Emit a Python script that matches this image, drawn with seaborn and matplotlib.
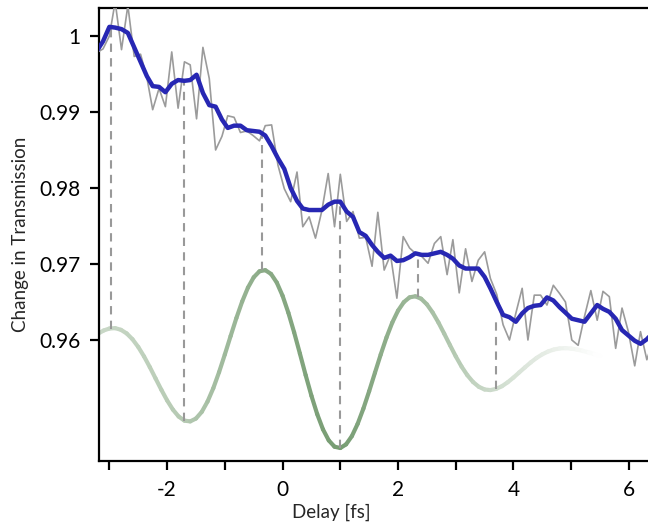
import numpy as np
import pandas as pd
import seaborn as sns
import matplotlib.pyplot as plt
from matplotlib.collections import LineCollection

# measured delay grid (fs) for the raw scan and the smoothed trace
delay = [-3.22, -3.11, -3.00, -2.90, -2.79, -2.68, -2.57, -2.46, -2.35, -2.25,
         -2.14, -2.03, -1.92, -1.81, -1.70, -1.60, -1.49, -1.38, -1.27, -1.16,
         -1.05, -0.95, -0.84, -0.73, -0.62, -0.51, -0.40, -0.30, -0.19, -0.08,
         0.03, 0.14, 0.25, 0.35, 0.46, 0.57, 0.68, 0.79, 0.90, 1.00,
         1.11, 1.22, 1.33, 1.44, 1.55, 1.65, 1.76, 1.87, 1.98, 2.09,
         2.20, 2.30, 2.41, 2.52, 2.63, 2.74, 2.85, 2.95, 3.06, 3.17,
         3.28, 3.39, 3.50, 3.60, 3.71, 3.82, 3.93, 4.04, 4.15, 4.25,
         4.36, 4.47, 4.58, 4.69, 4.80, 4.90, 5.01, 5.12, 5.23, 5.34,
         5.45, 5.55, 5.66, 5.77, 5.88, 5.99, 6.10, 6.20, 6.31, 6.42]

raw = [0.9978, 0.9983, 1.0000, 1.0045, 0.9982, 1.0040, 0.9973, 0.9976, 0.9945, 0.9903,
       0.9931, 0.9907, 0.9979, 0.9905, 0.9966, 0.9962, 0.9891, 0.9985, 0.9944, 0.9850,
       0.9868, 0.9895, 0.9893, 0.9873, 0.9875, 0.9869, 0.9862, 0.9882, 0.9883, 0.9830,
       0.9799, 0.9782, 0.9821, 0.9749, 0.9762, 0.9734, 0.9770, 0.9819, 0.9749, 0.9818,
       0.9756, 0.9769, 0.9734, 0.9735, 0.9697, 0.9768, 0.9692, 0.9712, 0.9655, 0.9736,
       0.9721, 0.9714, 0.9710, 0.9701, 0.9727, 0.9736, 0.9686, 0.9732, 0.9662, 0.9720,
       0.9677, 0.9705, 0.9716, 0.9681, 0.9660, 0.9620, 0.9600, 0.9635, 0.9668, 0.9600,
       0.9659, 0.9659, 0.9646, 0.9672, 0.9661, 0.9650, 0.9600, 0.9593, 0.9631, 0.9665,
       0.9626, 0.9664, 0.9657, 0.9589, 0.9642, 0.9611, 0.9566, 0.9611, 0.9574, 0.9600]

smooth = [0.9980, 0.9993, 1.0012, 1.0011, 1.0009, 1.0004, 0.9985, 0.9966, 0.9947, 0.9934,
          0.9933, 0.9926, 0.9937, 0.9942, 0.9941, 0.9942, 0.9949, 0.9925, 0.9909, 0.9907,
          0.9890, 0.9879, 0.9882, 0.9882, 0.9876, 0.9875, 0.9874, 0.9869, 0.9855, 0.9839,
          0.9825, 0.9800, 0.9783, 0.9773, 0.9771, 0.9771, 0.9771, 0.9778, 0.9782, 0.9782,
          0.9769, 0.9762, 0.9742, 0.9737, 0.9725, 0.9716, 0.9708, 0.9711, 0.9704, 0.9705,
          0.9709, 0.9714, 0.9712, 0.9712, 0.9714, 0.9716, 0.9712, 0.9707, 0.9698, 0.9694,
          0.9694, 0.9694, 0.9683, 0.9668, 0.9650, 0.9633, 0.9630, 0.9624, 0.9635, 0.9642,
          0.9645, 0.9646, 0.9656, 0.9652, 0.9643, 0.9636, 0.9628, 0.9626, 0.9624, 0.9635,
          0.9646, 0.9641, 0.9637, 0.9628, 0.9613, 0.9606, 0.9599, 0.9595, 0.9601, 0.9610]

# oscillation guide curve
osc_delay = [-3.2, -3.1, -3.0, -2.9, -2.8, -2.7, -2.6, -2.5, -2.4, -2.3,
             -2.2, -2.1, -2.0, -1.9, -1.8, -1.7, -1.6, -1.5, -1.4, -1.3,
             -1.2, -1.1, -1.0, -0.9, -0.8, -0.7, -0.6, -0.5, -0.4, -0.3,
             -0.2, -0.1, 0.0, 0.1, 0.2, 0.3, 0.4, 0.5, 0.6, 0.7,
             0.8, 0.9, 1.0, 1.1, 1.2, 1.3, 1.4, 1.5, 1.6, 1.7,
             1.8, 1.9, 2.0, 2.1, 2.2, 2.3, 2.4, 2.5, 2.6, 2.7,
             2.8, 2.9, 3.0, 3.1, 3.2, 3.3, 3.4, 3.5, 3.6, 3.7,
             3.8, 3.9, 4.0, 4.1, 4.2, 4.3, 4.4, 4.5, 4.6, 4.7,
             4.8, 4.9, 5.0, 5.1, 5.2, 5.3, 5.4, 5.5]
osc = [0.96081, 0.96125, 0.96151, 0.96156, 0.96134, 0.96086, 0.96010, 0.95908, 0.95784, 0.95644,
       0.95494, 0.95345, 0.95205, 0.95084, 0.94993, 0.94939, 0.94929, 0.94967, 0.95054, 0.95190,
       0.95366, 0.95577, 0.95810, 0.96052, 0.96289, 0.96506, 0.96689, 0.96825, 0.96904, 0.96919,
       0.96869, 0.96755, 0.96582, 0.96359, 0.96101, 0.95822, 0.95537, 0.95266, 0.95024, 0.94824,
       0.94679, 0.94596, 0.94579, 0.94627, 0.94735, 0.94896, 0.95098, 0.95327, 0.95569, 0.95809,
       0.96033, 0.96229, 0.96386, 0.96498, 0.96561, 0.96575, 0.96543, 0.96469, 0.96361, 0.96230,
       0.96083, 0.95932, 0.95785, 0.95651, 0.95537, 0.95447, 0.95384, 0.95349, 0.95341, 0.95357,
       0.95392, 0.95444, 0.95506, 0.95574, 0.95641, 0.95706, 0.95764, 0.95812, 0.95849, 0.95875,
       0.95889, 0.95893, 0.95887, 0.95875, 0.95857, 0.95837, 0.95814, 0.95792]

# dashed markers linking oscillation extrema to the trace
mark_delay = [-2.97, -1.70, -0.35, 1.00, 2.35, 3.69]
mark_low = [0.9615, 0.9493, 0.9692, 0.9458, 0.9657, 0.9535]
mark_high = [1.0012, 0.9942, 0.9874, 0.9780, 0.9714, 0.9630]

xticks = [-3, -2, -1, 0, 1, 2, 3, 4, 5, 6]
xtick_labels = ['', '-2', '', '0', '', '2', '', '4', '', '6']
yticks = [0.96, 0.97, 0.98, 0.99, 1.0]
ytick_labels = ['0.96', '0.97', '0.98', '0.99', '1']

sns.set_style('ticks')
plt.rcParams['font.family'] = ['Lato', 'DejaVu Sans']

df = pd.DataFrame({'delay': delay, 'raw': raw, 'smooth': smooth})

fig = plt.figure(figsize=(6.48, 5.27), dpi=100)
ax = fig.add_axes([99 / 648, 66 / 527, 549 / 648, 453 / 527])

# green guide with fading colour
ox = np.array(osc_delay)
oy = np.array(osc)
pts = np.column_stack([ox, oy]).reshape(-1, 1, 2)
segs = np.concatenate([pts[:-1], pts[1:]], axis=1)
mid = 0.5 * (ox[:-1] + ox[1:])
alpha = np.interp(mid, [-3.2, -1.7, -0.35, 1.0, 2.35, 3.7, 5.5],
                  [0.36, 0.5, 0.78, 0.92, 0.65, 0.33, 0.0])
base = np.array([0.42, 0.58, 0.40])
cols = 1 - alpha[:, None] * (1 - base)
lc = LineCollection(segs, colors=cols, linewidths=3.0, capstyle='round', zorder=2)
ax.add_collection(lc)

ax.vlines(mark_delay, mark_low, mark_high, colors='#999999', linewidth=1.5,
          linestyles=(0, (4, 3)), zorder=3)

sns.lineplot(data=df, x='delay', y='raw', color='#9b9b9b', linewidth=1.2,
             estimator=None, ax=ax, zorder=4)
sns.lineplot(data=df, x='delay', y='smooth', color='#2727b3', linewidth=3.2,
             estimator=None, ax=ax, zorder=5)

ax.set_xlim(-3.18, 6.33)
ax.set_ylim(0.94408, 1.00368)
ax.set_xticks(xticks)
ax.set_xticklabels(xtick_labels)
ax.set_yticks(yticks)
ax.set_yticklabels(ytick_labels)

for side in ['left', 'bottom', 'top']:
    ax.spines[side].set_linewidth(1.6)
    ax.spines[side].set_color('black')
ax.spines['right'].set_visible(False)
ax.tick_params(axis='both', direction='out', length=6.5, width=1.6,
               labelsize=15, colors='black')
ax.tick_params(axis='y', pad=7)
ax.tick_params(axis='x', pad=7)

ax.set_xlabel('Delay [fs]', fontsize=13.5)
ax.xaxis.set_label_coords((331 - 99) / 549, -0.095)
ax.set_ylabel('Change in Transmission', fontsize=13.5)
ax.yaxis.set_label_coords(-0.128, 0.5)

fig.savefig('out.png', dpi=100)
